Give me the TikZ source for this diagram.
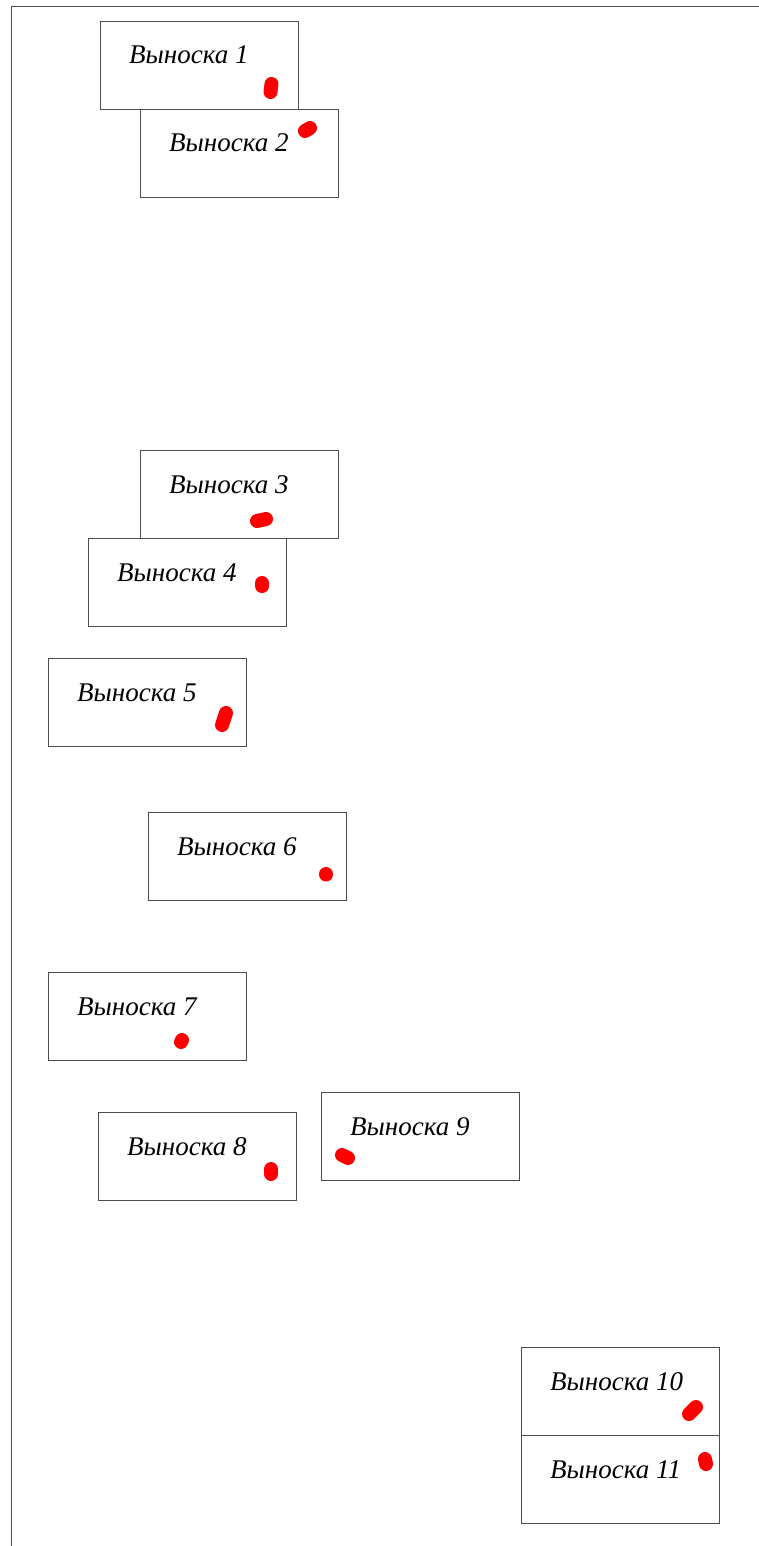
\documentclass[tikz,border=0pt]{standalone}
\usepackage{fontspec}
\setmainfont{Liberation Serif}
\begin{document}
\begin{tikzpicture}[x=1pt,y=-1pt,
  callout/.style={draw=black!70,line width=0.9pt,minimum width=198pt,minimum height=88pt,inner sep=0pt,anchor=north west},
  label/.style={anchor=base west,inner sep=0pt,font=\fontsize{27}{31}\selectfont\itshape},
  blob/.style={red,line width=14pt,line cap=round}]
\useasboundingbox (0,0) rectangle (759,1546);
\coordinate (tl) at (11,6);
\coordinate (tr) at (759,6);
\coordinate (bl) at (11,1546);
\draw[black!70,line width=0.9pt] (tr) -- (tl) -- (bl);
% boxes
\node[callout] (b1) at (100,21) {};
\node[callout] (b2) at (140,109) {};
\node[callout] (b3) at (140,450) {};
\node[callout] (b4) at (88,538) {};
\node[callout] (b5) at (48,658) {};
\node[callout] (b6) at (148,812) {};
\node[callout] (b7) at (48,972) {};
\node[callout] (b8) at (98,1112) {};
\node[callout] (b9) at (321,1092) {};
\node[callout] (b10) at (521,1347) {};
\node[callout] (b11) at (521,1435) {};
% labels
\node[label] (t1) at (129,64) {Выноска 1};
\node[label] (t2) at (169,152) {Выноска 2};
\node[label] (t3) at (169,493) {Выноска 3};
\node[label] (t4) at (117,581) {Выноска 4};
\node[label] (t5) at (77,701) {Выноска 5};
\node[label] (t6) at (177,855) {Выноска 6};
\node[label] (t7) at (77,1015) {Выноска 7};
\node[label] (t8) at (127,1155) {Выноска 8};
\node[label] (t9) at (350,1135) {Выноска 9};
\node[label] (t10) at (550,1390) {Выноска 10};
\node[label] (t11) at (550,1478) {Выноска 11};
% red marks
\draw[blob] (271.5,84) -- (270.5,92);
\draw[blob] (305,131) -- (310,128);
\draw[blob] (257,521) -- (266,519);
\draw[blob] (262,583) -- (262,586);
\draw[blob] (222,725) -- (226,713);
\draw[blob] (326,874) -- (326,874.5);
\draw[blob] (182,1040) -- (181,1042);
\draw[blob] (271,1169) -- (271,1174);
\draw[blob] (342,1155) -- (348,1158);
\draw[blob] (689,1414) -- (696,1407);
\draw[blob] (705,1459) -- (706,1464);
\end{tikzpicture}
\end{document}
